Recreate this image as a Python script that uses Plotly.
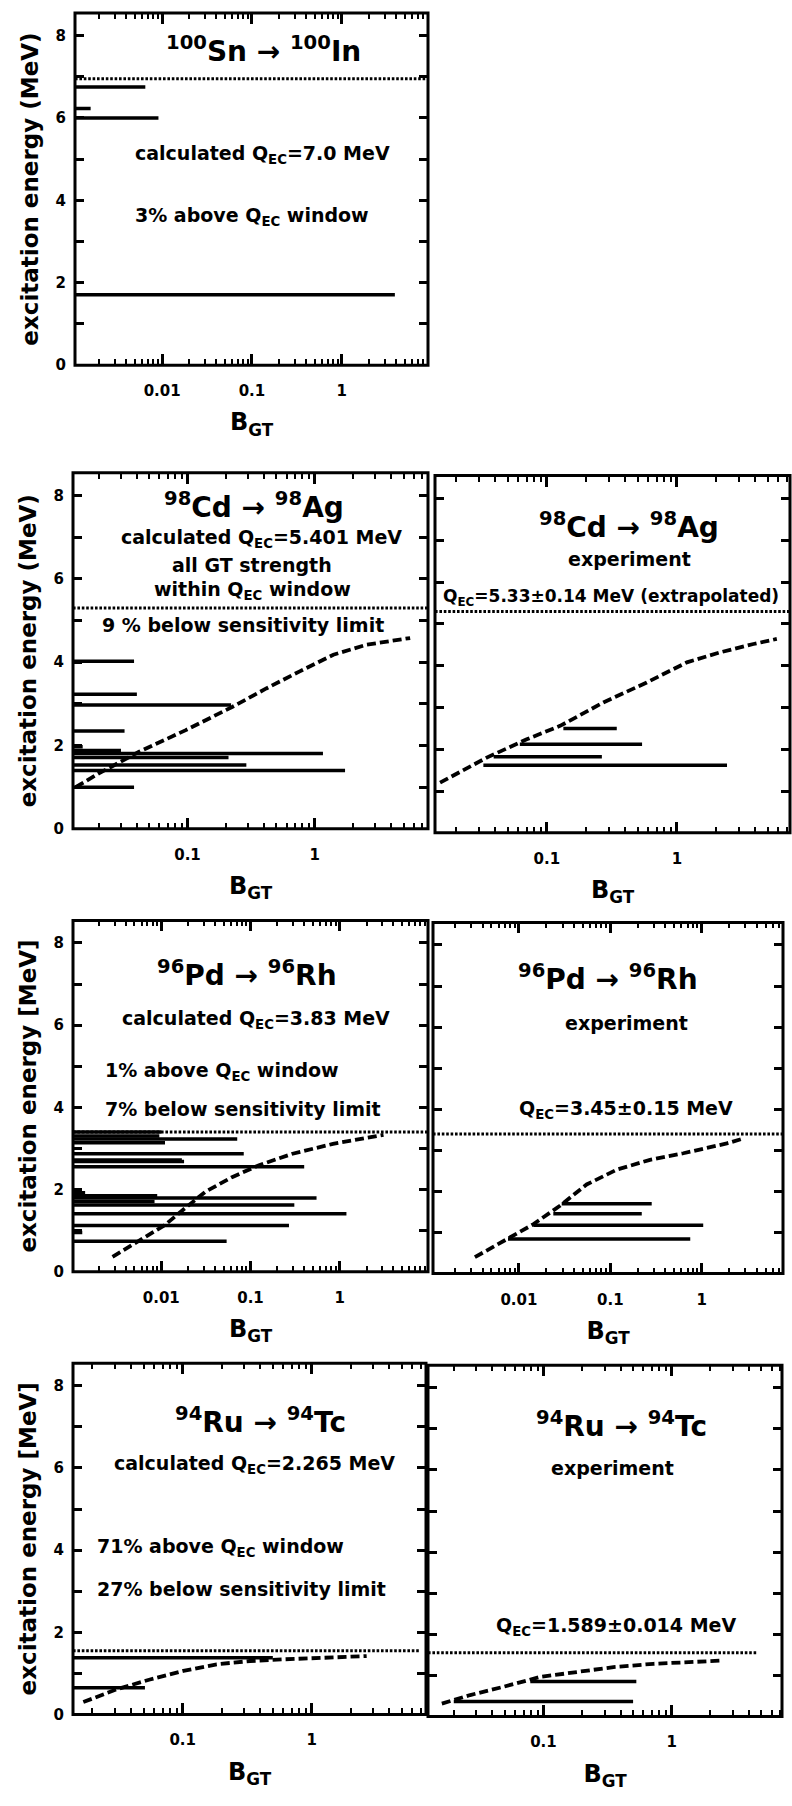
import plotly.graph_objects as go

W, H = 792, 1806

# ---------------- data ----------------
# 100Sn -> 100In, calculated
sn_E = [6.75, 6.23, 6.00, 1.71]
sn_B = [0.0065, 0.0016, 0.0091, 3.9]
sn_Q = 6.95

# 98Cd -> 98Ag, calculated
cd_E = [4.02, 3.23, 2.97, 2.35, 1.97, 1.88, 1.81, 1.71, 1.53, 1.40, 1.00]
cd_B = [0.038, 0.040, 0.22, 0.032, 0.015, 0.030, 1.16, 0.21, 0.29, 1.73, 0.038]
cd_Q = 5.3
cd_lim_B = [0.0132, 0.0201, 0.0416, 0.097, 0.226, 0.416, 0.762, 1.40, 2.56, 5.62]
cd_lim_E = [1.00, 1.33, 1.85, 2.37, 2.93, 3.37, 3.78, 4.18, 4.42, 4.58]

# 98Cd -> 98Ag, experiment
cdx_E = [2.50, 2.12, 1.82, 1.62]
cdx_B0 = [0.134, 0.062, 0.039, 0.0325]
cdx_B1 = [0.345, 0.54, 0.265, 2.43]
cdx_Q = 5.3
cdx_lim_B = [0.0151, 0.0345, 0.0701, 0.1265, 0.272, 0.587, 1.194, 2.153, 3.88, 5.87]
cdx_lim_E = [1.20, 1.80, 2.24, 2.56, 3.12, 3.60, 4.08, 4.32, 4.52, 4.64]

# 96Pd -> 96Rh, calculated
pd_E = [3.40, 3.30, 3.23, 3.14, 2.87, 2.72, 2.68, 2.55, 1.92, 1.85, 1.79, 1.71,
        1.62, 1.41, 1.12, 0.95, 0.74]
pd_B = [0.010, 0.0095, 0.071, 0.011, 0.084, 0.017, 0.018, 0.40, 0.0014, 0.009,
        0.55, 0.0084, 0.31, 1.19, 0.27, 0.0013, 0.054]
pd_Q = 3.40
pd_lim_B = [0.00284, 0.00545, 0.0109, 0.0184, 0.031, 0.0621, 0.1245, 0.2965, 0.841, 3.097]
pd_lim_E = [0.36, 0.73, 1.13, 1.54, 1.94, 2.30, 2.59, 2.87, 3.11, 3.33]

# 96Pd -> 96Rh, experiment
pdx_E = [1.70, 1.46, 1.18, 0.84]
pdx_B0 = [0.0294, 0.0238, 0.0144, 0.0076]
pdx_B1 = [0.284, 0.221, 1.04, 0.75]
pdx_Q = 3.40
pdx_lim_B = [0.0033, 0.00733, 0.01435, 0.0281, 0.0551, 0.1175, 0.272, 0.631, 1.884, 2.864]
pdx_lim_E = [0.40, 0.84, 1.20, 1.65, 2.17, 2.53, 2.77, 2.93, 3.17, 3.29]

# 94Ru -> 94Tc, calculated
ru_E = [1.38, 0.65]
ru_B = [0.50, 0.051]
ru_Q = 1.55
ru_lim_B = [0.01698, 0.03076, 0.0558, 0.1012, 0.1837, 0.3327, 0.6026, 1.469, 2.667]
ru_lim_E = [0.30, 0.61, 0.85, 1.06, 1.22, 1.30, 1.34, 1.38, 1.42]

# 94Ru -> 94Tc, experiment
rux_E = [0.85, 0.36]
rux_B0 = [0.079, 0.020]
rux_B1 = [0.53, 0.50]
rux_Q = 1.55
rux_lim_B = [0.01614, 0.02685, 0.04875, 0.0942, 0.182, 0.3516, 0.7194, 1.312, 2.529]
rux_lim_E = [0.31, 0.52, 0.72, 0.96, 1.08, 1.20, 1.28, 1.32, 1.36]

Y_TICKS = [0, 2, 4, 6, 8]

# ---------------- layout helpers ----------------
FONT = "DejaVu Sans"
LEFT = 1e-6  # calculated strengths are drawn from the left frame


def px_x(x):
    return x / W


def px_y(y):
    return 1 - y / H


panels = [
    dict(box=(75, 13, 428, 367), xr=[-2.97, 0.96], left=True,
         ytitle="excitation energy (MeV)",
         E=sn_E, B0=None, B1=sn_B, Q=sn_Q, qx1=1.0, limB=None, limE=None),
    dict(box=(73, 475, 428, 833), xr=[-1.90, 0.89], left=True,
         ytitle="excitation energy (MeV)",
         E=cd_E, B0=None, B1=cd_B, Q=cd_Q, qx1=1.0, limB=cd_lim_B, limE=cd_lim_E),
    dict(box=(435, 478, 790, 837), xr=[-1.86, 0.87], left=False, ytitle=None,
         E=cdx_E, B0=cdx_B0, B1=cdx_B1, Q=cdx_Q, qx1=1.0, limB=cdx_lim_B, limE=cdx_lim_E),
    dict(box=(73, 925, 428, 1278), xr=[-2.99, 0.99], left=True,
         ytitle="excitation energy [MeV]",
         E=pd_E, B0=None, B1=pd_B, Q=pd_Q, qx1=1.0, limB=pd_lim_B, limE=pd_lim_E),
    dict(box=(433, 927, 783, 1280), xr=[-2.94, 0.89], left=False, ytitle=None,
         E=pdx_E, B0=pdx_B0, B1=pdx_B1, Q=pdx_Q, qx1=1.0, limB=pdx_lim_B, limE=pdx_lim_E),
    dict(box=(73, 1370, 426, 1723), xr=[-1.85, 0.886], left=True,
         ytitle="excitation energy [MeV]",
         E=ru_E, B0=None, B1=ru_B, Q=ru_Q, qx1=0.98, limB=ru_lim_B, limE=ru_lim_E),
    dict(box=(428, 1372, 782, 1725), xr=[-1.90, 0.86], left=False, ytitle=None,
         E=rux_E, B0=rux_B0, B1=rux_B1, Q=rux_Q, qx1=0.93, limB=rux_lim_B, limE=rux_lim_E),
]

fig = go.Figure()
layout = dict(
    width=W, height=H, margin=dict(l=0, r=0, t=0, b=0),
    paper_bgcolor="white", plot_bgcolor="white", showlegend=False,
    font=dict(family=FONT, color="black", size=15),
)
shapes = []

for i, p in enumerate(panels, start=1):
    xn = "x" if i == 1 else f"x{i}"
    yn = "y" if i == 1 else f"y{i}"
    x0p, y0p, x1p, y1p = p["box"]

    # GT strength lines
    starts = p["B0"] if p["B0"] is not None else [LEFT] * len(p["E"])
    bx, by = [], []
    for e, b0, b1 in zip(p["E"], starts, p["B1"]):
        bx += [b0, b1, None]
        by += [e, e, None]
    fig.add_trace(go.Scatter(x=bx, y=by, mode="lines", xaxis=xn, yaxis=yn,
                             line=dict(color="black", width=3.5), hoverinfo="skip"))

    # sensitivity limit (dashed)
    if p["limB"] is not None:
        fig.add_trace(go.Scatter(x=p["limB"], y=p["limE"], mode="lines", xaxis=xn, yaxis=yn,
                                 line=dict(color="black", width=3.8, dash="9px,4px"),
                                 hoverinfo="skip"))

    # Q_EC window (dotted)
    shapes.append(dict(type="line", xref=f"{xn} domain", yref=yn, x0=0, x1=p["qx1"],
                       y0=p["Q"], y1=p["Q"],
                       line=dict(color="black", width=3, dash="2.6px,1.8px")))
    # panel frame
    shapes.append(dict(type="rect", xref=f"{xn} domain", yref=f"{yn} domain",
                       x0=0, x1=1, y0=0, y1=1, layer="above",
                       line=dict(color="black", width=3)))

    xax = dict(
        type="log", range=p["xr"], domain=[px_x(x0p), px_x(x1p)], anchor=yn,
        showline=False, mirror="allticks",
        ticks="inside", ticklen=11, tickwidth=3, tickcolor="black",
        dtick=1,
        minor=dict(ticks="inside", ticklen=6, tickwidth=2, tickcolor="black", dtick="D1"),
        showgrid=False, zeroline=False,
        tickfont=dict(size=15, family=FONT, color="black", weight="bold"),
        ticklabelstandoff=15,
        title=dict(text="B<sub>GT</sub>", standoff=14,
                   font=dict(size=24, family=FONT, color="black", weight="bold")),
    )
    yax = dict(
        range=[0, 8.55], domain=[px_y(y1p), px_y(y0p)], anchor=xn,
        showline=False, mirror="allticks",
        ticks="inside", ticklen=9, tickwidth=3, tickcolor="black",
        tickmode="array", tickvals=Y_TICKS,
        minor=dict(ticks="inside", ticklen=9, tickwidth=3, tickcolor="black",
                   dtick=1, tick0=0),
        showgrid=False, zeroline=False,
        tickfont=dict(size=15, family=FONT, color="black", weight="bold"),
        showticklabels=p["left"], ticklabelstandoff=8,
    )
    if p["ytitle"]:
        yax["title"] = dict(text=p["ytitle"], standoff=10,
                            font=dict(size=23, family=FONT, color="black", weight="bold"))
    layout["xaxis" if i == 1 else f"xaxis{i}"] = xax
    layout["yaxis" if i == 1 else f"yaxis{i}"] = yax

# ---------------- texts ----------------
texts = [
    ("<sup>100</sup>Sn → <sup>100</sup>In", 263, 50, "center", 28),
    ("calculated Q<sub>EC</sub>=7.0 MeV", 133, 155, "left", 19),
    ("3% above Q<sub>EC</sub> window", 133, 218, "left", 19),

    ("<sup>98</sup>Cd → <sup>98</sup>Ag", 254, 508, "center", 28),
    ("calculated Q<sub>EC</sub>=5.401 MeV", 261, 541, "center", 19),
    ("all GT strength", 252, 568, "center", 19),
    ("within Q<sub>EC</sub> window", 252, 593, "center", 19),
    ("9 % below sensitivity limit", 243, 628, "center", 19),

    ("<sup>98</sup>Cd → <sup>98</sup>Ag", 629, 528, "center", 28),
    ("experiment", 629, 562, "center", 19),
    ("Q<sub>EC</sub>=5.33±0.14 MeV (extrapolated)", 611, 600, "center", 17),

    ("<sup>96</sup>Pd → <sup>96</sup>Rh", 247, 978, "center", 28),
    ("calculated Q<sub>EC</sub>=3.83 MeV", 256, 1025, "center", 19),
    ("1% above Q<sub>EC</sub> window", 103, 1077, "left", 19),
    ("7% below sensitivity limit", 103, 1115, "left", 19),

    ("<sup>96</sup>Pd → <sup>96</sup>Rh", 608, 982, "center", 28),
    ("experiment", 626, 1028, "center", 19),
    ("Q<sub>EC</sub>=3.45±0.15 MeV", 626, 1115, "center", 19),

    ("<sup>94</sup>Ru → <sup>94</sup>Tc", 260, 1428, "center", 28),
    ("calculated Q<sub>EC</sub>=2.265 MeV", 254, 1472, "center", 19),
    ("71% above Q<sub>EC</sub> window", 95, 1555, "left", 19),
    ("27% below sensitivity limit", 95, 1597, "left", 19),

    ("<sup>94</sup>Ru → <sup>94</sup>Tc", 621, 1432, "center", 28),
    ("experiment", 612, 1475, "center", 19),
    ("Q<sub>EC</sub>=1.589±0.014 MeV", 616, 1635, "center", 19),
]
annotations = [
    dict(text=t, x=px_x(x), y=px_y(y), xref="paper", yref="paper",
         xanchor=anc, yanchor="middle", showarrow=False,
         font=dict(size=s, family=FONT, color="black", weight="bold"))
    for (t, x, y, anc, s) in texts
]

layout["shapes"] = shapes
layout["annotations"] = annotations
fig.update_layout(**layout)
fig.write_html("out.html")
